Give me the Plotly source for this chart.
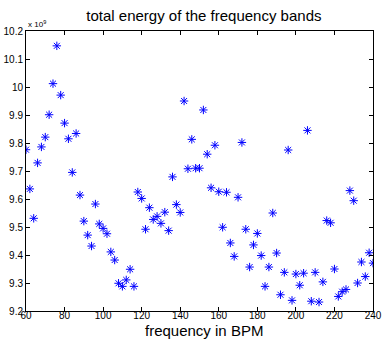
import plotly.graph_objects as go

bpm = list(range(60, 242, 2))
energy = [
    9.776, 9.636, 9.531, 9.729, 9.786, 9.821, 9.901, 10.012, 10.147, 9.971,
    9.871, 9.815, 9.695, 9.834, 9.614, 9.521, 9.471, 9.432, 9.582, 9.511,
    9.495, 9.476, 9.411, 9.382, 9.299, 9.288, 9.311, 9.349, 9.288, 9.625,
    9.602, 9.492, 9.569, 9.527, 9.538, 9.513, 9.553, 9.487, 9.679, 9.580,
    9.552, 9.950, 9.708, 9.813, 9.710, 9.710, 9.918, 9.760, 9.640, 9.792,
    9.626, 9.499, 9.624, 9.443, 9.395, 9.606, 9.802, 9.492, 9.357, 9.436,
    9.477, 9.398, 9.288, 9.357, 9.550, 9.407, 9.258, 9.338, 9.775, 9.238,
    9.332, 9.292, 9.335, 9.845, 9.235, 9.338, 9.232, 9.304, 9.523, 9.515,
    9.350, 9.252, 9.269, 9.277, 9.630, 9.594, 9.300, 9.375, 9.323, 9.408,
    9.371,
]

x_ticks = [60, 80, 100, 120, 140, 160, 180, 200, 220, 240]
y_ticks = [9.2, 9.3, 9.4, 9.5, 9.6, 9.7, 9.8, 9.9, 10.0, 10.1, 10.2]
y_ticktext = ["9.2", "9.3", "9.4", "9.5", "9.6", "9.7", "9.8", "9.9", "10", "10.1", "10.2"]

fig = go.Figure()
fig.add_trace(go.Scatter(
    x=bpm, y=energy, mode="markers",
    marker=dict(symbol="asterisk-open", size=7, color="#0000ff",
                line=dict(color="#0000ff", width=1)),
    showlegend=False,
))

axis_common = dict(
    showline=True, linecolor="#000000", linewidth=1, mirror="allticks",
    ticks="inside", ticklen=4, tickcolor="#000000", showgrid=False,
    zeroline=False, ticklabeloverflow="allow",
    tickfont=dict(family="Liberation Sans, Arial", size=10, color="#000000"),
)

fig.update_layout(
    width=384, height=340,
    margin=dict(l=26, r=2, t=31, b=29),
    paper_bgcolor="white", plot_bgcolor="white",
    title=dict(text="total energy of the frequency bands", x=0.531, xanchor="center",
               y=0.955, yanchor="middle",
               font=dict(family="Liberation Sans, Arial", size=15, color="#000000")),
    xaxis=dict(range=[60, 240], tickvals=x_ticks, ticklabelstandoff=-5, **axis_common),
    yaxis=dict(range=[9.2, 10.2], tickvals=y_ticks, ticktext=y_ticktext, **axis_common),
    annotations=[
        dict(text="x 10<sup>9</sup>", xref="paper", yref="paper", x=0.0, y=1.0,
             xanchor="left", yanchor="bottom", showarrow=False,
             font=dict(family="Liberation Sans, Arial", size=8, color="#000000")),
        dict(text="frequency in BPM", xref="paper", yref="paper", x=0.512, y=-0.07,
             xanchor="center", yanchor="middle", showarrow=False,
             font=dict(family="Liberation Sans, Arial", size=15, color="#000000")),
    ],
)

fig.write_html("out.html")
